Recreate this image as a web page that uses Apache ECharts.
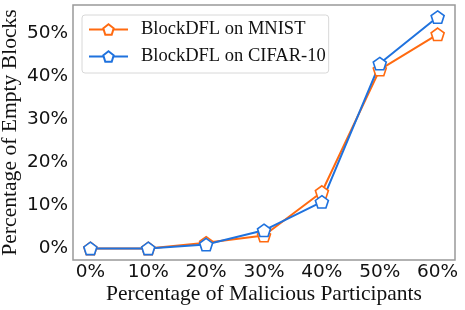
<!DOCTYPE html>
<html><head><meta charset="utf-8">
<script src="https://cdn.jsdelivr.net/npm/echarts@6/dist/echarts.min.js"></script>
<style>html,body{margin:0;padding:0;background:#fff}#c{width:465px;height:310px}</style>
</head><body><div id="c"></div>
<script>
const xValues = [0, 10, 20, 30, 40, 50, 60];
const mnist = [0, 0, 1.3, 3.0, 13.1, 41.5, 49.7];
const cifar = [0, 0, 0.9, 4.2, 10.8, 42.9, 53.7];
const xTicks = [0, 10, 20, 30, 40, 50, 60];
const yTicks = [0, 10, 20, 30, 40, 50];
const seriesNames = ['BlockDFL on MNIST', 'BlockDFL on CIFAR-10'];
const colors = ['#FF6A10', '#1F72DE'];
const pent = 'path://M0,-1 L0.951,-0.309 L0.588,0.809 L-0.588,0.809 L-0.951,-0.309 Z';

const chart = echarts.init(document.getElementById('c'), null, {renderer: 'canvas'});
function mk(name, vals, c) {
  return {
    name: name, type: 'line',
    data: xValues.map((x, i) => [x, vals[i]]),
    symbol: pent, symbolSize: [13, 12.4],
    itemStyle: {color: '#fff', borderColor: c, borderWidth: 1.6},
    lineStyle: {color: c, width: 2},
    emphasis: {disabled: true}, animation: false
  };
}
chart.setOption({
  animation: false,
  grid: {left: 73, right: 10, top: 5, bottom: 50, show: true, borderColor: '#999', borderWidth: 1.5,
         backgroundColor: 'transparent', containLabel: false, outerBoundsMode: 'none'},
  legend: {
    left: 82, top: 15, orient: 'vertical',
    itemWidth: 39, itemHeight: 13, itemGap: 8,
    padding: [5, 3, 7, 6],
    borderColor: '#d8d8d8', borderWidth: 1, borderRadius: 3,
    textStyle: {fontFamily: 'Liberation Serif', fontSize: 18.5, lineHeight: 19, color: '#111', padding: [0, 0, 0, 8]},
    data: seriesNames
  },
  xAxis: {
    type: 'value', min: -3, max: 63,
    name: 'Percentage of Malicious Participants', nameLocation: 'middle', nameGap: 23, nameMoveOverlap: false,
    nameTextStyle: {fontFamily: 'Liberation Serif', fontSize: 21.5, color: '#111'},
    axisLine: {show: false}, axisTick: {show: false}, splitLine: {show: false},
    axisLabel: {customValues: xTicks, formatter: v => v + '%', fontFamily: 'DejaVu Sans', fontSize: 18.5, color: '#111', margin: 3}
  },
  yAxis: {
    type: 'value', min: -2.69, max: 56.5,
    name: 'Percentage of Empty Blocks', nameLocation: 'middle', nameGap: 52, nameMoveOverlap: false,
    nameTextStyle: {fontFamily: 'Liberation Serif', fontSize: 21.6, color: '#111'},
    axisLine: {show: false}, axisTick: {show: false}, splitLine: {show: false},
    axisLabel: {customValues: yTicks, formatter: v => v + '%', fontFamily: 'DejaVu Sans', fontSize: 18.5, color: '#111', margin: 5}
  },
  series: [mk(seriesNames[0], mnist, colors[0]), mk(seriesNames[1], cifar, colors[1])]
});
</script></body></html>
